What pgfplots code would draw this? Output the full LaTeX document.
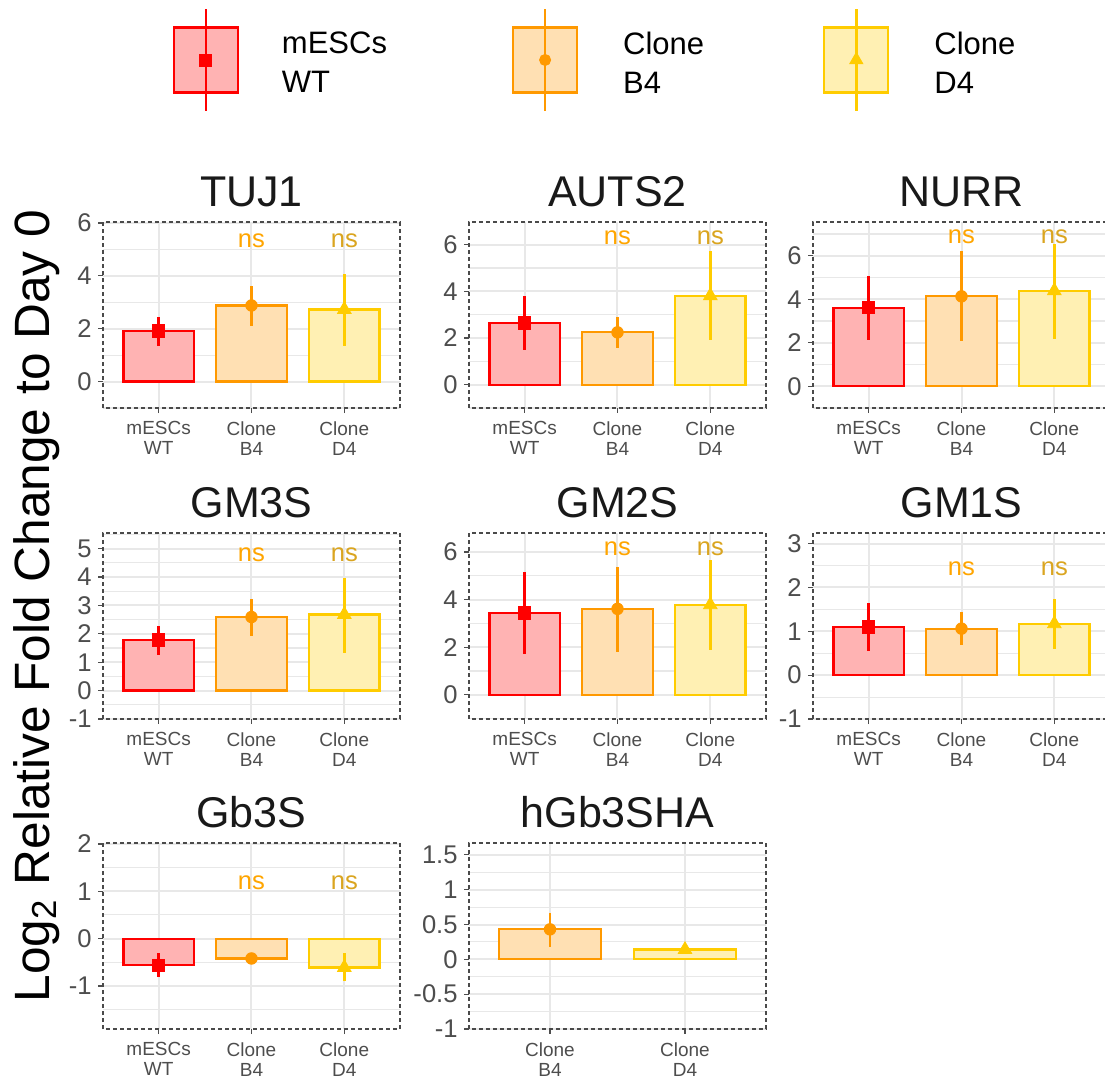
\documentclass[border=0pt]{standalone}
\usepackage{pgfplots}
\pgfplotsset{compat=1.18}
\usepackage{fontspec}
\setmainfont{Liberation Sans}

\definecolor{cWT}{HTML}{FF0000}
\definecolor{fWT}{HTML}{FFB3B3}
\definecolor{cB4}{HTML}{FF9900}
\definecolor{fB4}{HTML}{FFE0B3}
\definecolor{cD4}{HTML}{FFCC00}
\definecolor{fD4}{HTML}{FFF0B3}
\definecolor{nsB4}{HTML}{FFA500}
\definecolor{nsD4}{HTML}{DAA520}
\definecolor{tickgray}{HTML}{4D4D4D}
\definecolor{gridgray}{HTML}{E8E8E8}
\definecolor{framegray}{HTML}{4A4A4A}

\pgfplotsset{
  panel/.style={
    scale only axis, width=148.5pt, height=93pt, anchor=north west,
    xmin=0.4, xmax=3.6, xtick={1,2,3},
    xticklabels={{mESCs\\WT},{Clone\\B4},{Clone\\D4}},
    xticklabel style={align=center, font=\fontsize{9.5}{10}\selectfont, text=tickgray, inner sep=0pt, yshift=-4pt},
    yticklabel style={font=\fontsize{12.8}{13}\selectfont, text=tickgray, inner sep=0pt, xshift=-3pt},
    tick align=outside, tick pos=left, major tick length=2.5pt, minor tick length=0pt,
    tick style={color=tickgray, line width=0.6pt},
    xmajorgrids, ymajorgrids, yminorgrids,
    major grid style={color=gridgray, line width=1pt},
    minor grid style={color=gridgray, line width=0.55pt},
    axis line style={draw=none},
    title style={font=\fontsize{21.5}{24}\selectfont, at={(0.5,1)}, anchor=base, yshift=1.5pt, text=black!90},
    /pgf/number format/assume math mode=true,
    after end axis/.code={\draw[framegray, line width=0.6pt, dash pattern=on 2pt off 1.5pt] (rel axis cs:0,0) rectangle (rel axis cs:1,1);},
  },
  barWT/.style={ybar, bar width=0.76, bar shift=0pt, draw=cWT, fill=fWT, line width=1.1pt},
  barB4/.style={ybar, bar width=0.76, bar shift=0pt, draw=cB4, fill=fB4, line width=1.1pt},
  barD4/.style={ybar, bar width=0.76, bar shift=0pt, draw=cD4, fill=fD4, line width=1.1pt},
  ptWT/.style={only marks, mark=square*, mark size=3.1pt, color=cWT,
    error bars/.cd, y dir=both, y explicit, error mark=none, error bar style={line width=1.3pt, cWT}},
  ptB4/.style={only marks, mark=*, mark size=2.9pt, color=cB4,
    error bars/.cd, y dir=both, y explicit, error mark=none, error bar style={line width=1.3pt, cB4}},
  ptD4/.style={only marks, mark=triangle*, mark size=3.9pt, color=cD4,
    error bars/.cd, y dir=both, y explicit, error mark=none, error bar style={line width=1.3pt, cD4}},
}
\tikzset{
  nsb/.style={font=\fontsize{12.8}{14}\selectfont, text=nsB4, inner sep=0pt},
  nsd/.style={font=\fontsize{12.8}{14}\selectfont, text=nsD4, inner sep=0pt},
}

\begin{document}
\begin{tikzpicture}
\useasboundingbox (0,0) rectangle (552.5pt,-539.5pt);
\node[rotate=90, anchor=base, font=\fontsize{24.8}{28}\selectfont] at (24.5pt,-303pt) {Log\textsubscript{2} Relative Fold Change to Day 0};

% ---------------- TUJ1 (with legend)
\begin{axis}[panel, at={(51.5pt,-111pt)}, title={TUJ1},
  ymin=-1, ymax=6.04, ytick={0,2,4,6}, minor ytick={-1,1,3,5},
  legend columns=3, legend cell align=left,
  legend style={at={(axis description cs:0.2335,1.871)}, anchor=west, draw=none, fill=none,
    inner sep=0pt, font=\fontsize{15.5}{19.5}\selectfont, nodes={align=left, inner sep=0pt, yshift=-2pt},
    /tikz/column 1/.style={column sep=21.5pt},
    /tikz/column 2/.style={column sep=62.5pt},
    /tikz/column 3/.style={column sep=22.5pt},
    /tikz/column 4/.style={column sep=59.5pt},
    /tikz/column 5/.style={column sep=22.5pt}}]
\addlegendimage{legend image code/.code={
  \draw[draw=cWT, fill=fWT, line width=1.1pt] (0pt,-16.25pt) rectangle (32pt,16.25pt);
  \draw[cWT, line width=1.3pt] (16pt,-25.5pt) -- (16pt,25.5pt);
  \fill[cWT] (13pt,-3pt) rectangle (19pt,3pt);}}
\addlegendentry{mESCs\\WT}
\addlegendimage{legend image code/.code={
  \draw[draw=cB4, fill=fB4, line width=1.1pt] (0pt,-16.25pt) rectangle (32pt,16.25pt);
  \draw[cB4, line width=1.3pt] (16pt,-25.5pt) -- (16pt,25.5pt);
  \fill[cB4] (16pt,0pt) circle (2.8pt);}}
\addlegendentry{Clone\\B4}
\addlegendimage{legend image code/.code={
  \draw[draw=cD4, fill=fD4, line width=1.1pt] (0pt,-16.25pt) rectangle (32pt,16.25pt);
  \draw[cD4, line width=1.3pt] (16pt,-25.5pt) -- (16pt,25.5pt);
  \fill[cD4] (16pt,3.8pt) -- (12.7pt,-1.9pt) -- (19.3pt,-1.9pt) -- cycle;}}
\addlegendentry{Clone\\D4}
\addplot[barWT] coordinates {(1,1.92)};
\addplot[barB4] coordinates {(2,2.88)};
\addplot[barD4] coordinates {(3,2.73)};
\addplot[ptWT] coordinates {(1,1.92) += (0,0.52) -= (0,0.56)};
\addplot[ptB4] coordinates {(2,2.88) += (0,0.72) -= (0,0.76)};
\addplot[ptD4] coordinates {(3,2.73) += (0,1.34) -= (0,1.37)};
\node[nsb] at (axis cs:2,5.33) {ns};
\node[nsd] at (axis cs:3,5.33) {ns};
\end{axis}

% ---------------- AUTS2
\begin{axis}[panel, at={(234.5pt,-111pt)}, title={AUTS2},
  ymin=-1, ymax=6.97, ytick={0,2,4,6}, minor ytick={-1,1,3,5}]
\addplot[barWT] coordinates {(1,2.64)};
\addplot[barB4] coordinates {(2,2.24)};
\addplot[barD4] coordinates {(3,3.81)};
\addplot[ptWT] coordinates {(1,2.64) += (0,1.15) -= (0,1.17)};
\addplot[ptB4] coordinates {(2,2.24) += (0,0.65) -= (0,0.67)};
\addplot[ptD4] coordinates {(3,3.81) += (0,1.90) -= (0,1.91)};
\node[nsb] at (axis cs:2,6.29) {ns};
\node[nsd] at (axis cs:3,6.29) {ns};
\end{axis}

% ---------------- NURR
\begin{axis}[panel, at={(406.5pt,-111pt)}, title={NURR},
  ymin=-1, ymax=7.55, ytick={0,2,4,6}, minor ytick={-1,1,3,5,7}]
\addplot[barWT] coordinates {(1,3.61)};
\addplot[barB4] coordinates {(2,4.13)};
\addplot[barD4] coordinates {(3,4.39)};
\addplot[ptWT] coordinates {(1,3.61) += (0,1.44) -= (0,1.50)};
\addplot[ptB4] coordinates {(2,4.13) += (0,2.07) -= (0,2.06)};
\addplot[ptD4] coordinates {(3,4.39) += (0,2.16) -= (0,2.22)};
\node[nsb] at (axis cs:2,6.86) {ns};
\node[nsd] at (axis cs:3,6.86) {ns};
\end{axis}

% ---------------- GM3S
\begin{axis}[panel, at={(51.5pt,-266.5pt)}, title={GM3S},
  ymin=-1, ymax=5.55, ytick={-1,0,1,2,3,4,5}, minor ytick={-0.5,0.5,1.5,2.5,3.5,4.5,5.5}]
\addplot[barWT] coordinates {(1,1.79)};
\addplot[barB4] coordinates {(2,2.59)};
\addplot[barD4] coordinates {(3,2.68)};
\addplot[ptWT] coordinates {(1,1.79) += (0,0.50) -= (0,0.53)};
\addplot[ptB4] coordinates {(2,2.59) += (0,0.65) -= (0,0.67)};
\addplot[ptD4] coordinates {(3,2.68) += (0,1.30) -= (0,1.35)};
\node[nsb] at (axis cs:2,4.8) {ns};
\node[nsd] at (axis cs:3,4.8) {ns};
\end{axis}

% ---------------- GM2S
\begin{axis}[panel, at={(234.5pt,-266.5pt)}, title={GM2S},
  ymin=-1.02, ymax=6.8, ytick={0,2,4,6}, minor ytick={-1,1,3,5}]
\addplot[barWT] coordinates {(1,3.44)};
\addplot[barB4] coordinates {(2,3.61)};
\addplot[barD4] coordinates {(3,3.78)};
\addplot[ptWT] coordinates {(1,3.44) += (0,1.71) -= (0,1.73)};
\addplot[ptB4] coordinates {(2,3.61) += (0,1.78) -= (0,1.83)};
\addplot[ptD4] coordinates {(3,3.78) += (0,1.87) -= (0,1.90)};
\node[nsb] at (axis cs:2,6.14) {ns};
\node[nsd] at (axis cs:3,6.14) {ns};
\end{axis}

% ---------------- GM1S
\begin{axis}[panel, at={(406.5pt,-266.5pt)}, title={GM1S},
  ymin=-1, ymax=3.24, ytick={-1,0,1,2,3}, minor ytick={-0.5,0.5,1.5,2.5}]
\addplot[barWT] coordinates {(1,1.10)};
\addplot[barB4] coordinates {(2,1.06)};
\addplot[barD4] coordinates {(3,1.17)};
\addplot[ptWT] coordinates {(1,1.10) += (0,0.54) -= (0,0.55)};
\addplot[ptB4] coordinates {(2,1.06) += (0,0.38) -= (0,0.38)};
\addplot[ptD4] coordinates {(3,1.17) += (0,0.57) -= (0,0.58)};
\node[nsb] at (axis cs:2,2.43) {ns};
\node[nsd] at (axis cs:3,2.43) {ns};
\end{axis}

% ---------------- Gb3S
\begin{axis}[panel, at={(51.5pt,-421.5pt)}, title={Gb3S},
  ymin=-1.91, ymax=2.02, ytick={-1,0,1,2}, minor ytick={-1.5,-0.5,0.5,1.5}]
\addplot[barWT] coordinates {(1,-0.56)};
\addplot[barB4] coordinates {(2,-0.42)};
\addplot[barD4] coordinates {(3,-0.61)};
\addplot[ptWT] coordinates {(1,-0.56) += (0,0.25) -= (0,0.25)};
\addplot[ptB4] coordinates {(2,-0.42) += (0,0.04) -= (0,0.04)};
\addplot[ptD4] coordinates {(3,-0.61) += (0,0.30) -= (0,0.28)};
\node[nsb] at (axis cs:2,1.17) {ns};
\node[nsd] at (axis cs:3,1.17) {ns};
\end{axis}

% ---------------- hGb3SHA
\begin{axis}[panel, at={(234.5pt,-421.5pt)}, title={hGb3SHA},
  xmin=0.4, xmax=2.6, xtick={1,2}, xticklabels={{Clone\\B4},{Clone\\D4}},
  ymin=-1, ymax=1.67, ytick={-1,-0.5,0,0.5,1,1.5},
  minor ytick={-0.75,-0.25,0.25,0.75,1.25},
  yticklabel style={/pgf/number format/fixed}]
\addplot[barB4] coordinates {(1,0.43)};
\addplot[barD4] coordinates {(2,0.14)};
\addplot[ptB4] coordinates {(1,0.43) += (0,0.24) -= (0,0.25)};
\addplot[ptD4] coordinates {(2,0.14) += (0,0.04) -= (0,0.04)};
\end{axis}
\end{tikzpicture}
\end{document}
